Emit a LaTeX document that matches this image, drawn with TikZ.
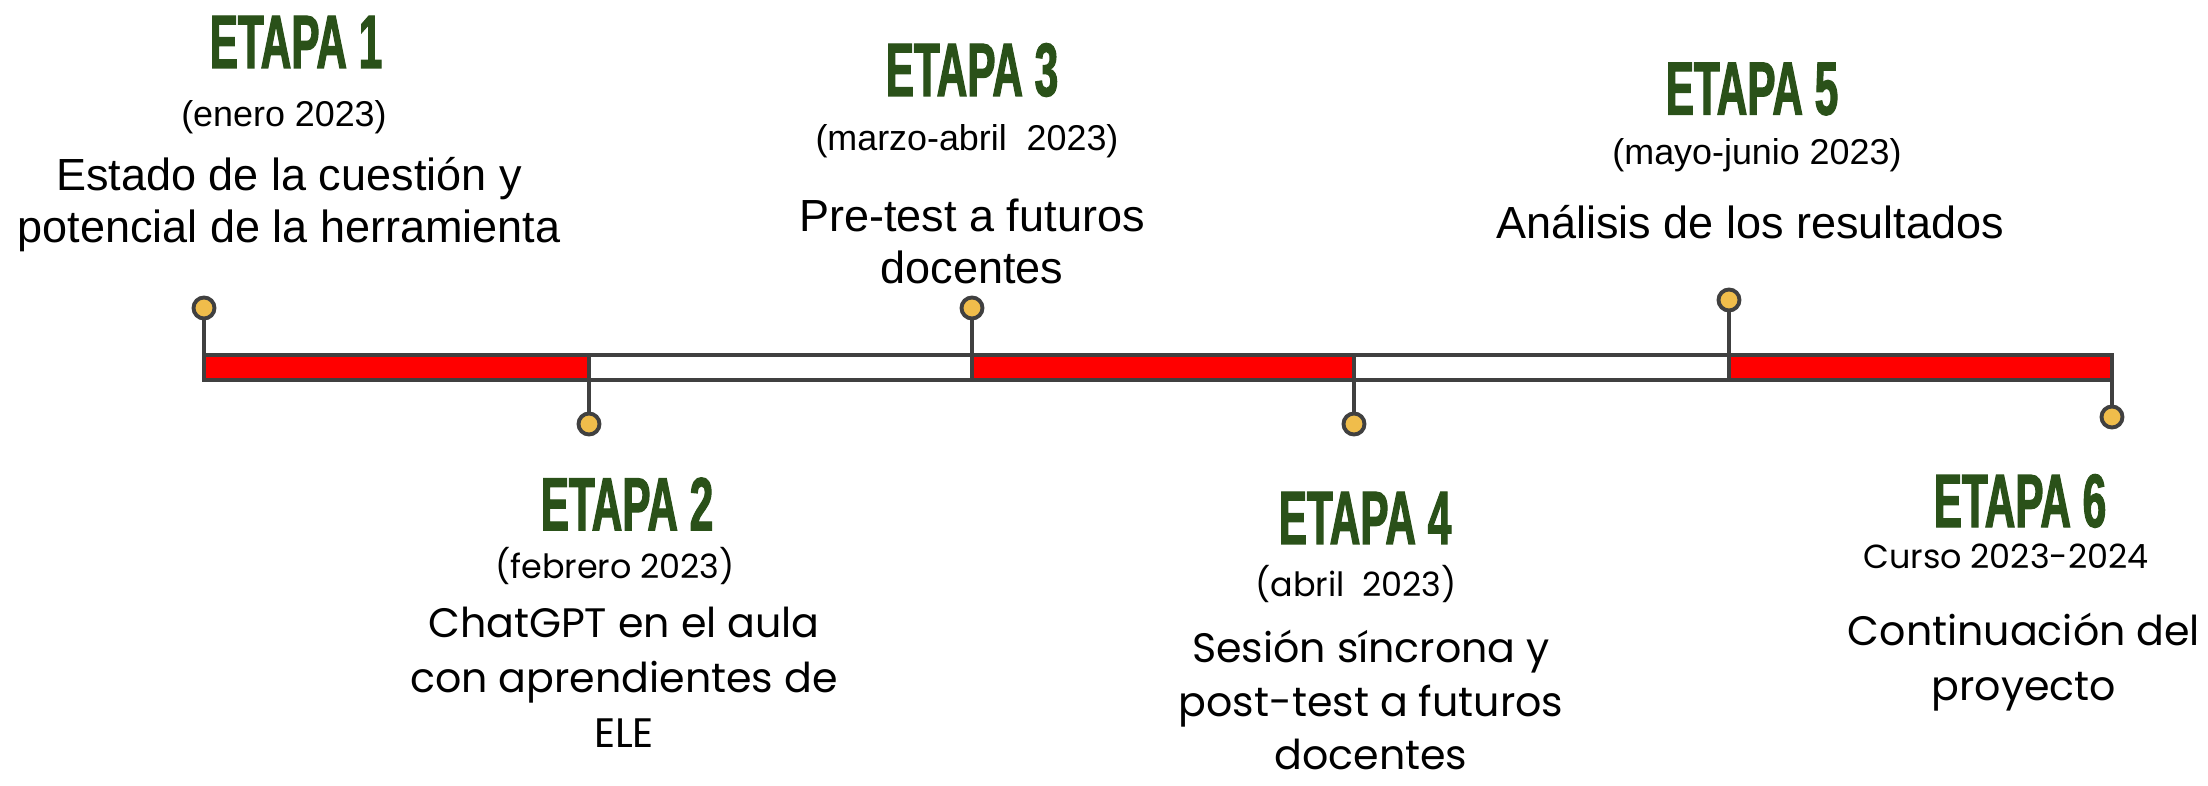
\documentclass[tikz,border=0pt]{standalone}
\usepackage{fontspec}
\setmainfont{Liberation Sans}
\newfontfamily\etapafont[FakeStretch=0.56,FakeBold=1.5]{Liberation Sans Bold}
\newfontfamily\rwfont{Poppins}
\definecolor{etapaGreen}{HTML}{2A5119}
\definecolor{pinGold}{HTML}{F0BD4B}
\definecolor{lineGray}{HTML}{404040}
\definecolor{barRed}{HTML}{FF0000}

\tikzset{
	etapa/.style = {text = etapaGreen, font = \etapafont\fontsize{21.5}{21.5}\selectfont, inner sep = 0pt},
	fecha/.style = {font = \fontsize{10.2}{12}\selectfont, inner sep = 0pt},
	desc/.style = {align = center, font = \fontsize{12.8}{14.8}\selectfont, inner sep = 0pt},
	fechaR/.style = {font = \rwfont\fontsize{9.5}{12}\selectfont, inner sep = 0pt},
	descR/.style = {align = center, font = \rwfont\fontsize{11.7}{15.6}\selectfont, inner sep = 0pt},
	hito/.style = {circle, draw = lineGray, line width = 1.1pt, fill = pinGold, minimum size = 0.21cm, inner sep = 0pt},
	tramo/.style = {draw = lineGray, line width = 1.2pt},
	tallo/.style = {draw = lineGray, line width = 1pt},
}

\begin{document}
\begin{tikzpicture}[x = 0.01cm, y = -0.01cm]
		\useasboundingbox (0, 0) rectangle (2208, 786);
		%%%%%%%%%%%%% bar edges
		\coordinate (t1) at (204, 355); \coordinate (b1) at (204, 380);
		\coordinate (t2) at (589, 355); \coordinate (b2) at (589, 380);
		\coordinate (t3) at (972, 355); \coordinate (b3) at (972, 380);
		\coordinate (t4) at (1354, 355); \coordinate (b4) at (1354, 380);
		\coordinate (t5) at (1729, 355); \coordinate (b5) at (1729, 380);
		\coordinate (t6) at (2112, 355); \coordinate (b6) at (2112, 380);
		%%%%%%%%%%%%% bar
		\draw [tramo, fill = barRed] (t1) rectangle (b2);
		\draw [tramo, fill = white] (t2) rectangle (b3);
		\draw [tramo, fill = barRed] (t3) rectangle (b4);
		\draw [tramo, fill = white] (t4) rectangle (b5);
		\draw [tramo, fill = barRed] (t5) rectangle (b6);
		%%%%%%%%%%%%% pins
		\node [hito] (p1) at (204, 308) {};
		\node [hito] (p2) at (589, 424) {};
		\node [hito] (p3) at (972, 308) {};
		\node [hito] (p4) at (1354, 424) {};
		\node [hito] (p5) at (1729, 300) {};
		\node [hito] (p6) at (2112, 417) {};
		\draw [tallo] (p1) to (b1); \draw [tallo] (t2) to (p2);
		\draw [tallo] (p3) to (b3); \draw [tallo] (t4) to (p4);
		\draw [tallo] (p5) to (b5); \draw [tallo] (t6) to (p6);
		%%%%%%%%%%%%% stages above
		\node [etapa] (e1) at (296, 42) {ETAPA 1};
		\node [fecha] (f1) at (284, 117) {(enero 2023)};
		\node [desc] (d1) at (289, 205) {Estado de la cuestión y\\potencial de la herramienta};
		\node [etapa] (e3) at (972, 70) {ETAPA 3};
		\node [fecha] (f3) at (967, 141) {(marzo-abril\ \ 2023)};
		\node [desc] (d3) at (972, 241) {Pre-test a futuros\\docentes};
		\node [etapa] (e5) at (1752, 89) {ETAPA 5};
		\node [fecha] (f5) at (1757, 155) {(mayo-junio 2023)};
		\node [desc] (d5) at (1750, 222) {Análisis de los resultados};
		%%%%%%%%%%%%% stages below
		\node [etapa] (e2) at (627, 504) {ETAPA 2};
		\node [fechaR] (f2) at (615, 566) {(febrero 2023)};
		\node [descR] (d2) at (624, 677) {ChatGPT en el aula\\con aprendientes de\\ELE};
		\node [etapa] (e4) at (1365, 518) {ETAPA 4};
		\node [fechaR] (f4) at (1356, 584) {(abril\ \ 2023)};
		\node [descR, font = \rwfont\fontsize{11.7}{15.2}\selectfont] (d4) at (1371, 700) {Sesión síncrona y\\post-test a futuros\\docentes};
		\node [etapa] (e6) at (2020, 501) {ETAPA 6};
		\node [fechaR] (f6) at (2006, 556) {Curso 2023-2024};
		\node [descR] (d6) at (2024, 662) {Continuación del\\proyecto};
\end{tikzpicture}
\end{document}
